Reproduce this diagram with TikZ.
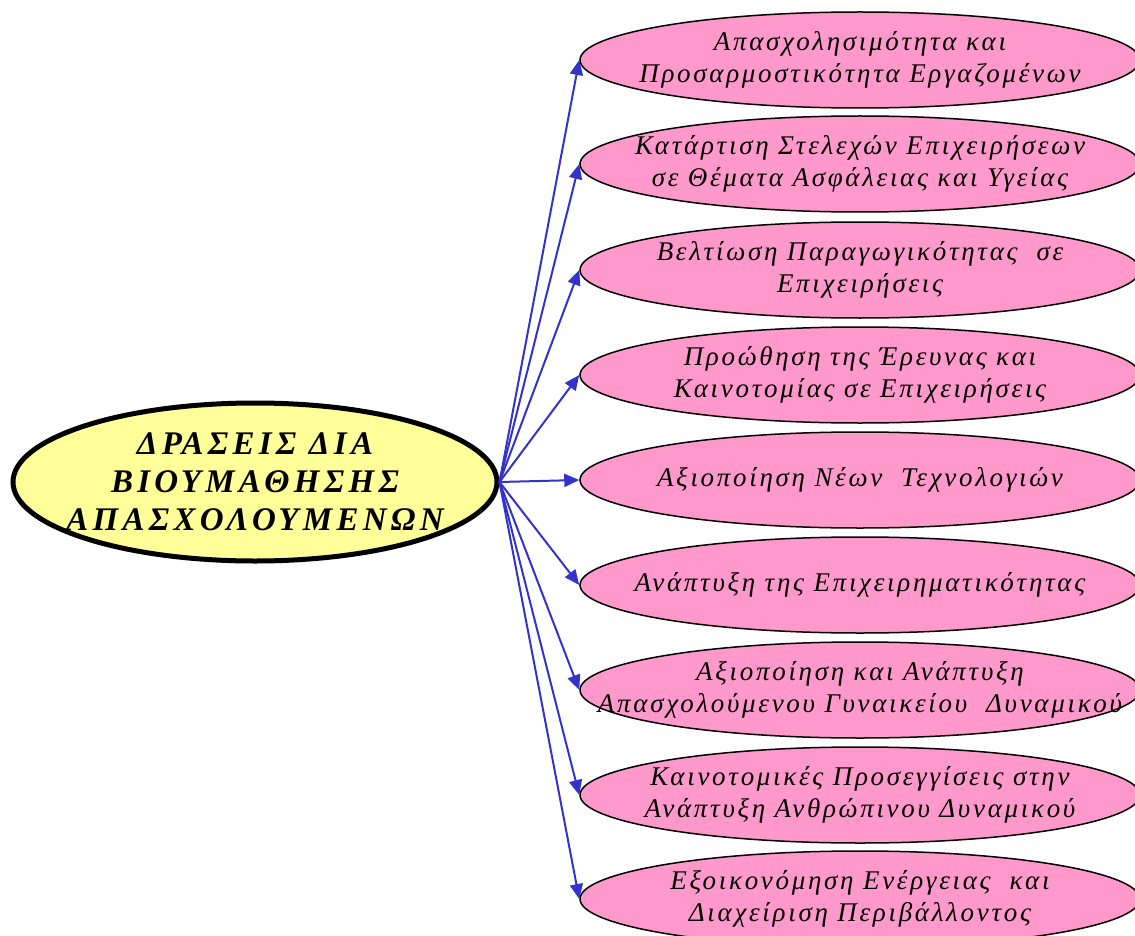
\documentclass[tikz,border=0pt]{standalone}
\usepackage{fontspec}
\setmainfont{Liberation Serif}
\newfontfamily\leaffont{Liberation Serif}[LetterSpace=10]
\newfontfamily\rootfont{Liberation Serif}[LetterSpace=13]
\usetikzlibrary{shapes.geometric,arrows.meta}
\definecolor{leafpink}{HTML}{FF99CC}
\definecolor{rootyellow}{HTML}{FFFF99}
\definecolor{linkblue}{HTML}{3333CC}
\begin{document}
\begin{tikzpicture}[x=1pt,y=-1pt,
  leaf/.style={ellipse,draw=black,line width=1.5pt,fill=leafpink,minimum width=560pt,minimum height=96pt,inner sep=0pt,
    label={[align=center,font=\leaffont\itshape\fontsize{27}{32}\selectfont]center:#1}},
  rootnode/.style={ellipse,draw=black,line width=5pt,fill=rootyellow,minimum width=484pt,minimum height=158pt,inner sep=0pt,
    label={[align=center,font=\rootfont\bfseries\itshape\fontsize{33}{38}\selectfont]center:#1}},
  link/.style={draw=linkblue,line width=2pt,-{Triangle[length=15pt,width=13pt]}}]
\useasboundingbox (0,0) rectangle (1135,936);
\clip (0,0) rectangle (1135,936);
\node[rootnode={ΔΡΑΣΕΙΣ ΔΙΑ\\ΒΙΟΥΜΑΘΗΣΗΣ\\ΑΠΑΣΧΟΛΟΥΜΕΝΩΝ}] (root) at (255,482) {};
\node[leaf={Απασχολησιμότητα και\\Προσαρμοστικότητα Εργαζομένων}] (n1) at (860,60) {};
\node[leaf={Κατάρτιση Στελεχών Επιχειρήσεων\\σε Θέματα Ασφάλειας και Υγείας}] (n2) at (860,164) {};
\node[leaf={Βελτίωση Παραγωγικότητας\ \ σε\\Επιχειρήσεις}] (n3) at (860,270) {};
\node[leaf={Προώθηση της Έρευνας και\\Καινοτομίας σε Επιχειρήσεις}] (n4) at (860,375) {};
\node[leaf={Αξιοποίηση Νέων\ \ Τεχνολογιών}] (n5) at (860,480) {};
\node[leaf={Ανάπτυξη της Επιχειρηματικότητας}] (n6) at (860,585) {};
\node[leaf={Αξιοποίηση και Ανάπτυξη\\Απασχολούμενου Γυναικείου\ \ Δυναμικού}] (n7) at (860,690) {};
\node[leaf={Καινοτομικές Προσεγγίσεις στην\\Ανάπτυξη Ανθρώπινου Δυναμικού}] (n8) at (860,795) {};
\node[leaf={Εξοικονόμηση Ενέργειας\ \ και\\Διαχείριση Περιβάλλοντος}] (n9) at (860,899) {};
\foreach \i in {1,...,9} {
  \draw[link] (root.east) -- (n\i.west);
}
\end{tikzpicture}
\end{document}
